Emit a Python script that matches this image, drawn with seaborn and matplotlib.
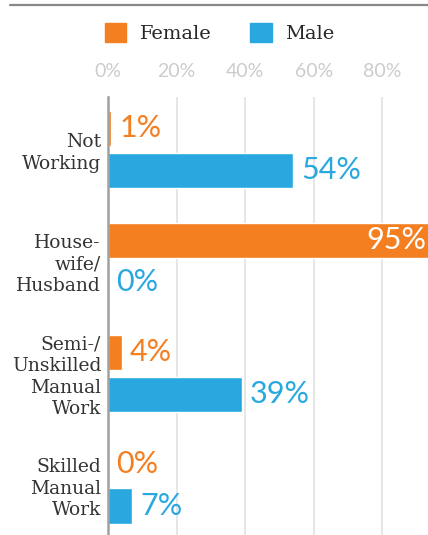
import pandas as pd
import numpy as np
import matplotlib
matplotlib.use("Agg")
import matplotlib.pyplot as plt
from matplotlib.lines import Line2D
import seaborn as sns

# data
categories = ["Not\nWorking", "House-\nwife/\nHusband", "Semi-/\nUnskilled\nManual\nWork", "Skilled\nManual\nWork"]
female = [1, 95, 4, 0]
male = [54, 0, 39, 7]
groups = ["Female", "Male"]
colors = {"Female": "#F47F20", "Male": "#29A8E0"}
ticks = [0, 20, 40, 60, 80]

df = pd.DataFrame({
    "job": categories * 2,
    "pct": female + male,
    "sex": ["Female"] * len(categories) + ["Male"] * len(categories),
})

sns.set_style("white")
plt.rcParams["font.family"] = ["Lato", "DejaVu Sans"]

fig = plt.figure(figsize=(4.28, 5.35), dpi=100)
ax = fig.add_axes([108 / 428, 0, 320 / 428, 1 - 97 / 535])

sns.barplot(data=df, y="job", x="pct", hue="sex", order=categories, hue_order=groups,
            palette=colors, orient="h", width=0.751, gap=0.166, saturation=1,
            legend=False, ax=ax)

xmax = 320 / 3.43
ax.set_xlim(0, xmax)
ax.set_ylim(3.447, -0.467)

# grid + axis styling
ax.set_xticks(ticks)
ax.set_xticklabels([f"{t}%" for t in ticks], color="#cccccc", fontsize=14,
                   fontfamily="Lato")
ax.xaxis.tick_top()
ax.tick_params(axis="x", length=0, pad=12)
ax.grid(axis="x", color="#e2e2e2", lw=1.2)
ax.set_axisbelow(True)
for s in ["top", "right", "bottom"]:
    ax.spines[s].set_visible(False)
ax.spines["left"].set_color("#a0a0a0")
ax.spines["left"].set_linewidth(1.8)
ax.spines["left"].set_zorder(5)
ax.set_xlabel("")
ax.set_ylabel("")
ax.set_yticks(range(len(categories)))
ax.set_yticklabels(categories, fontfamily="DejaVu Serif", fontsize=13.5, color="#333333",
                   linespacing=1.25)
ax.tick_params(axis="y", length=0, pad=5)

# value labels
for hue_name, cont in zip(groups, ax.containers):
    for bar in cont:
        w = bar.get_width()
        yc = bar.get_y() + bar.get_height() / 2
        txt = f"{w:.0f}%"
        if w > xmax:
            ax.annotate(txt, (xmax, yc), xytext=(-1, 0), textcoords="offset points",
                        ha="right", va="center", color="white", fontsize=22,
                        clip_on=False)
        else:
            ax.annotate(txt, (w, yc), xytext=(6, 0), textcoords="offset points",
                        ha="left", va="center", color=colors[hue_name], fontsize=22)

# legend
handles = [plt.Rectangle((0, 0), 1, 1, color=colors[g]) for g in groups]
fig.legend(handles, groups, loc="center", bbox_to_anchor=(219.5 / 428, 1 - 33 / 535),
           ncol=2, frameon=False, handlelength=1.1, handleheight=1.1,
           handletextpad=0.7, columnspacing=2.0, borderpad=0,
           prop={"family": "DejaVu Serif", "size": 14})

# rule across the top
fig.add_artist(Line2D([10 / 428, 1], [1 - 5 / 535] * 2, color="#888888", lw=1.6))

fig.savefig("out.png", dpi=100)
